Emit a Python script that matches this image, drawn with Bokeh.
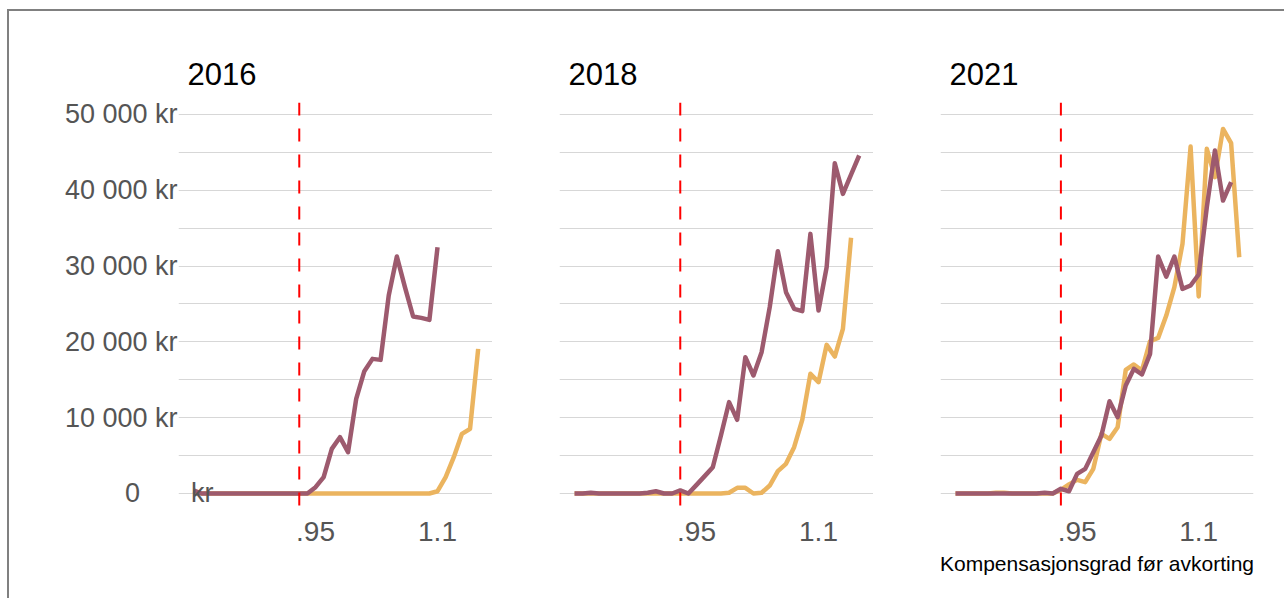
from bokeh.plotting import figure
from bokeh.models import Range1d, FixedTicker, Span, Label, Row
from bokeh.embed import file_html
from bokeh.resources import INLINE

# Compensation ratio before reduction (x) and amount in kroner (y)
x_vals = [0.80, 0.81, 0.82, 0.83, 0.84, 0.85, 0.86, 0.87, 0.88, 0.89,
          0.90, 0.91, 0.92, 0.93, 0.94, 0.95, 0.96, 0.97, 0.98, 0.99,
          1.00, 1.01, 1.02, 1.03, 1.04, 1.05, 1.06, 1.07, 1.08, 1.09,
          1.10, 1.11, 1.12, 1.13, 1.14, 1.15]

years = ["2016", "2018", "2021"]

purple_2016 = [400, 0, 0, 0, 0, 0, 0, 0, 0, 0,
               0, 0, 0, 0, 0, 830, 2150, 5890, 7430, 5450,
               12490, 16130, 17760, 17630, 26120, 31260, 27200, 23350, 23170, 22900,
               32490]
orange_2016 = [200, 0, 0, 0, 0, 0, 0, 0, 0, 0,
               0, 0, 0, 0, 0, 0, 0, 0, 0, 0,
               0, 0, 0, 0, 0, 0, 0, 0, 0, 0,
               300, 2150, 4790, 7870, 8530, 19080]

purple_2018 = [0, 0, 100, 0, 0, 0, 0, 0, 0, 100,
               300, 0, 0, 400, 0, 1140, 2290, 3470, 7650, 12050,
               9720, 17980, 15570, 18640, 24580, 31970, 26560, 24360, 24050, 34250,
               24140, 29860, 43570, 39530, 42080, 44590]
orange_2018 = [0, 0, 0, 0, 0, 0, 0, 0, 0, 0,
               0, 0, 0, 0, 0, 0, 0, 0, 0, 100,
               750, 750, 0, 100, 1050, 2950, 3910, 6110, 9720, 15790,
               14690, 19610, 18070, 21720, 33730]

purple_2021 = [0, 0, 0, 0, 0, 0, 0, 0, 0, 0,
               0, 100, 0, 620, 300, 2590, 3250, 5450, 7650, 12180,
               10070, 14250, 16440, 15700, 18420, 31260, 28620, 31260, 27000, 27440,
               28890, 37770, 45250, 38650, 41070]
orange_2021 = [0, 0, 0, 0, 0, 100, 100, 0, 0, 0,
               0, 0, 0, 480, 1200, 1800, 1500, 3250, 7870, 7210,
               8750, 16310, 17020, 16230, 20090, 20530, 23480, 27220, 32930, 45770,
               25990, 45470, 41730, 48100, 46210, 31170]

purple_series = [purple_2016, purple_2018, purple_2021]
orange_series = [orange_2016, orange_2018, orange_2021]

y_ticks = [0, 10000, 20000, 30000, 40000, 50000]
y_tick_labels = ["0", "10 000 kr", "20 000 kr", "30 000 kr", "40 000 kr", "50 000 kr"]
grid_ticks = [0, 5000, 10000, 15000, 20000, 25000, 30000, 35000, 40000, 45000, 50000]
x_ticks = [0.95, 1.1]
x_tick_labels = [".95", "1.1"]
threshold = 0.93
x_title = "Kompensasjonsgrad før avkorting"

PURPLE = "#9d5a6e"
ORANGE = "#ebb45f"
FONT = "Liberation Sans"

panels = []
for k, year in enumerate(years):
    first = k == 0
    last = k == len(years) - 1
    p = figure(
        title=year,
        frame_width=314 if not last else 313,
        frame_height=410,
        x_range=Range1d(0.7815, 1.1676),
        y_range=Range1d(-2507, 51583),
        min_border_left=169 if first else 67,
        min_border_right=31 if last else 0,
        min_border_top=91,
        min_border_bottom=86,
        output_backend="svg",
        toolbar_location=None,
        background_fill_color="white",
        border_fill_color="white",
    )
    p.outline_line_color = None

    p.title.text_font = FONT
    p.title.text_font_size = "31px"
    p.title.text_font_style = "normal"
    p.title.text_color = "black"
    p.title.align = "left"
    p.title.offset = 9
    p.title.standoff = 35

    p.xgrid.visible = False
    p.ygrid.ticker = FixedTicker(ticks=grid_ticks)
    p.ygrid.grid_line_color = "#d7d7d7"
    p.ygrid.grid_line_width = 1

    p.yaxis.ticker = FixedTicker(ticks=y_ticks)
    overrides = dict(zip(y_ticks, y_tick_labels))
    overrides[0] = y_tick_labels[0] + "\u00a0" * 5
    p.yaxis.major_label_overrides = overrides
    p.yaxis.major_label_text_font = FONT
    p.yaxis.major_label_text_font_size = "27px"
    p.yaxis.major_label_text_color = "#555555"
    p.yaxis.major_label_standoff = -5
    p.yaxis.axis_line_color = None
    p.yaxis.major_tick_line_color = None
    p.yaxis.minor_tick_line_color = None
    if not first:
        p.yaxis.major_label_text_font_size = "0px"
        p.yaxis.major_label_text_color = None

    p.xaxis.ticker = FixedTicker(ticks=x_ticks)
    p.xaxis.major_label_overrides = dict(zip(x_ticks, x_tick_labels))
    p.xaxis.major_label_text_font = FONT
    p.xaxis.major_label_text_font_size = "28px"
    p.xaxis.major_label_text_color = "#555555"
    p.xaxis.major_label_standoff = 3
    p.xaxis.axis_line_color = None
    p.xaxis.major_tick_line_color = None
    p.xaxis.minor_tick_line_color = None
    if last:
        p.xaxis.axis_label = x_title
        p.xaxis.axis_label_text_font = FONT
        p.xaxis.axis_label_text_font_size = "21px"
        p.xaxis.axis_label_text_font_style = "normal"
        p.xaxis.axis_label_text_color = "black"
        p.xaxis.axis_label_standoff = 8

    p.add_layout(Span(location=threshold, dimension="height", line_color="#ff0000",
                      line_width=2, line_dash="13 13"))

    ov = orange_series[k]
    pv = purple_series[k]
    p.line(x_vals[:len(ov)], ov, line_color=ORANGE, line_width=4.5, line_join="round")
    p.line(x_vals[:len(pv)], pv, line_color=PURPLE, line_width=4.5, line_join="round")

    if first:
        # the currency unit of the zero label spills into the plot area
        p.add_layout(Label(x=0.797, y=0, text="kr", text_font=FONT, text_font_size="27px",
                           text_color="#555555", text_baseline="middle", text_align="left"))

    panels.append(p)

layout = Row(children=panels, spacing=0,
             styles={"margin-left": "7px", "margin-top": "9px",
                     "border-top": "2px solid #808080",
                     "border-left": "2px solid #808080"})

open("out.html", "w").write(file_html(layout, INLINE))
